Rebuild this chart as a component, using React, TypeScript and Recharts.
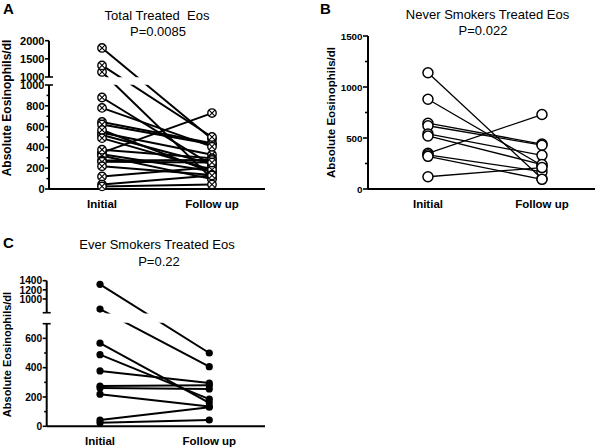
import React from 'react';
import {LineChart, Line, XAxis, YAxis, ReferenceLine, ReferenceArea} from 'recharts';

const categories = ['Initial', 'Follow up'];

// never smokers (panel B)
const neverInitial = [1140, 880, 645, 620, 540, 520, 350, 335, 320, 120];
const neverFollowUp = [100, 230, 440, 430, 330, 240, 730, 170, 95, 210];

// ever smokers (panel C)
const everInitial = [1320, 780, 567, 489, 378, 275, 262, 219, 43, 25];
const everFollowUp = [500, 407, 160, 185, 295, 280, 255, 135, 130, 43];

// total treated (panel A): both groups plus one more subject
const otherInitial = [1800];
const otherFollowUp = [480];
const totalInitial = [...otherInitial, ...neverInitial, ...everInitial];
const totalFollowUp = [...otherFollowUp, ...neverFollowUp, ...everFollowUp];

// y tick values
const totalLowerTicks = [0, 200, 400, 600, 800, 1000];
const totalLowerMinor = [100, 300, 500, 700, 900];
const totalUpperTicks = [1000, 1500, 2000];
const neverTicks = [0, 500, 1000, 1500];
const neverMinor = [250, 750, 1250];
const everLowerTicks = [0, 200, 400, 600];
const everLowerMinor = [100, 300, 500];
const everUpperTicks = [1000, 1200, 1400];

const FONT = '"Liberation Sans", Arial, Helvetica, sans-serif';

type Seg = {lo: number; hi: number; d0: number; k: number};
type TickSpec = {v: number; seg: number; label: boolean; minor?: boolean; cap?: boolean};

// broken axis: each segment maps its value range onto its own stretch of the axis
const toDisp = (s: Seg, v: number) => s.d0 + (v - s.lo) * s.k;
const dispOf = (segs: Seg[], v: number) => {
  const s = segs.find((sg) => v <= sg.hi) ?? segs[segs.length - 1];
  return toDisp(s, v);
};

type PanelProps = {
  left: number;
  top: number;
  width: number;
  height: number;
  margin: {top: number; right: number; bottom: number; left: number};
  yWidth: number;
  xHeight: number;
  xDomain: [number, number];
  segs: Seg[];
  gapInset?: number;
  ticks: TickSpec[];
  initial: number[];
  followUp: number[];
  dot: 'cross' | 'open' | 'filled';
  dotR: number;
  lineWidth: number;
  tickFont: number;
  majorLen: number;
  minorLen: number;
  xFont: number;
  xMargin: number;
};

function Panel(p: PanelProps) {
  const rows = [p.initial, p.followUp].map((vals, i) => {
    const row: Record<string, number> = {x: i + 1};
    vals.forEach((v, j) => {
      row['s' + j] = dispOf(p.segs, v);
    });
    return row;
  });

  const tickInfo = new Map<string, TickSpec>();
  const tickVals = p.ticks.map((t) => {
    const d = toDisp(p.segs[t.seg], t.v);
    tickInfo.set(d.toFixed(3), t);
    return d;
  });
  const last = p.segs[p.segs.length - 1];
  const yMax = toDisp(last, last.hi);
  const [xMin, xMax] = p.xDomain;
  const inset = p.gapInset ?? 0;

  const renderYTick = (props: any) => {
    const {x, y, payload} = props;
    const t = tickInfo.get(Number(payload.value).toFixed(3));
    if (!t) return <g />;
    const len = t.minor ? p.minorLen : p.majorLen;
    return (
      <g>
        <line x1={x - len} x2={t.cap ? x + len : x} y1={y} y2={y} stroke="#000" strokeWidth={1.6} />
        {t.label && (
          <text
            x={x - p.majorLen - 0.5}
            y={y}
            dy="0.36em"
            textAnchor="end"
            fontSize={p.tickFont}
            fontWeight="bold"
            fontFamily={FONT}
            fill="#000"
          >
            {t.v}
          </text>
        )}
      </g>
    );
  };

  const renderDot = (props: any) => {
    const {cx, cy, index} = props;
    if (cx == null || cy == null) return <g key={index} />;
    const r = p.dotR;
    if (p.dot === 'filled') return <circle key={index} cx={cx} cy={cy} r={r} fill="#000" />;
    if (p.dot === 'open')
      return <circle key={index} cx={cx} cy={cy} r={r} fill="#fff" stroke="#000" strokeWidth={1.5} />;
    const d = r * 0.7;
    return (
      <g key={index}>
        <circle cx={cx} cy={cy} r={r} fill="#fff" stroke="#000" strokeWidth={1.4} />
        <line x1={cx - d} y1={cy - d} x2={cx + d} y2={cy + d} stroke="#000" strokeWidth={1.1} />
        <line x1={cx - d} y1={cy + d} x2={cx + d} y2={cy - d} stroke="#000" strokeWidth={1.1} />
      </g>
    );
  };

  return (
    <div style={{position: 'absolute', left: p.left, top: p.top}}>
      <LineChart width={p.width} height={p.height} data={rows} margin={p.margin}>
        <XAxis
          type="number"
          dataKey="x"
          domain={p.xDomain}
          ticks={[1, 2]}
          interval={0}
          tickFormatter={(v: number) => categories[v - 1]}
          tickLine={false}
          tickMargin={p.xMargin}
          height={p.xHeight}
          axisLine={{stroke: '#000', strokeWidth: 2}}
          tick={{fill: '#000', fontSize: p.xFont, fontWeight: 'bold', fontFamily: FONT}}
        />
        <YAxis
          type="number"
          domain={[0, yMax]}
          ticks={tickVals}
          interval={0}
          width={p.yWidth}
          axisLine={false}
          tickLine={false}
          tickSize={0}
          tickMargin={0}
          tick={renderYTick}
        />
        {p.segs.map((s, i) => (
          <ReferenceLine
            key={'ax' + i}
            segment={[
              {x: xMin, y: toDisp(s, s.lo)},
              {x: xMin, y: toDisp(s, s.hi)},
            ]}
            stroke="#000"
            strokeWidth={2}
            ifOverflow="visible"
          />
        ))}
        {p.initial.map((_, j) => (
          <Line
            key={'s' + j}
            type="linear"
            dataKey={'s' + j}
            stroke="#000"
            strokeWidth={p.lineWidth}
            dot={renderDot}
            activeDot={false}
            isAnimationActive={false}
            legendType="none"
          />
        ))}
        {p.segs.length > 1 && (
          <ReferenceArea
            x1={xMin}
            x2={xMax}
            y1={toDisp(p.segs[0], p.segs[0].hi) + inset}
            y2={p.segs[1].d0 - inset}
            fill="#fff"
            fillOpacity={1}
            stroke="none"
            ifOverflow="visible"
            zIndex={900}
          />
        )}
      </LineChart>
    </div>
  );
}

const minor = (seg: number) => (v: number): TickSpec => ({v, seg, label: false, minor: true});

export default function App() {
  const textStyle = {fontFamily: FONT, fill: '#000'};
  return (
    <div style={{position: 'absolute', left: 0, top: 0, width: 600, height: 448, background: '#fff'}}>
      <Panel
        left={0}
        top={0}
        width={300}
        height={220}
        margin={{top: 40.7, right: 35, bottom: 6, left: 0}}
        yWidth={49}
        xHeight={25}
        xDomain={[0.518, 2.482]}
        segs={[
          {lo: 0, hi: 1000, d0: 0, k: 1},
          {lo: 1000, hi: 2000, d0: 1077, k: 0.349},
        ]}
        gapInset={3}
        ticks={[
          ...totalLowerTicks.map((v) => ({v, seg: 0, label: true, cap: v === 1000})),
          ...totalLowerMinor.map(minor(0)),
          ...totalUpperTicks.map((v) => ({v, seg: 1, label: true, cap: v === 1000})),
        ]}
        initial={totalInitial}
        followUp={totalFollowUp}
        dot="cross"
        dotR={4.2}
        lineWidth={2}
        tickFont={11}
        majorLen={4}
        minorLen={2.5}
        xFont={11.5}
        xMargin={5}
      />
      <Panel
        left={300}
        top={0}
        width={300}
        height={220}
        margin={{top: 36, right: 5, bottom: 6, left: 0}}
        yWidth={68}
        xHeight={25}
        xDomain={[0.474, 2.465]}
        segs={[{lo: 0, hi: 1500, d0: 0, k: 1}]}
        ticks={[...neverTicks.map((v) => ({v, seg: 0, label: true})), ...neverMinor.map(minor(0))]}
        initial={neverInitial}
        followUp={neverFollowUp}
        dot="open"
        dotR={5}
        lineWidth={1.3}
        tickFont={9.8}
        majorLen={5}
        minorLen={3}
        xFont={11.5}
        xMargin={5}
      />
      <Panel
        left={0}
        top={220}
        width={300}
        height={228}
        margin={{top: 60.7, right: 35, bottom: 1.7, left: 0}}
        yWidth={46.7}
        xHeight={20}
        xDomain={[0.512, 2.51]}
        segs={[
          {lo: 0, hi: 700, d0: 0, k: 1},
          {lo: 700, hi: 1400, d0: 775, k: 0.312},
        ]}
        gapInset={6}
        ticks={[
          ...everLowerTicks.map((v) => ({v, seg: 0, label: true})),
          ...everLowerMinor.map(minor(0)),
          {v: 700, seg: 0, label: false, cap: true},
          {v: 700, seg: 1, label: false, cap: true},
          ...everUpperTicks.map((v) => ({v, seg: 1, label: true})),
        ]}
        initial={everInitial}
        followUp={everFollowUp}
        dot="filled"
        dotR={3.6}
        lineWidth={2}
        tickFont={10.2}
        majorLen={4}
        minorLen={2.5}
        xFont={11.5}
        xMargin={5}
      />
      <svg width={600} height={448} style={{position: 'absolute', left: 0, top: 0, pointerEvents: 'none'}}>
        <text x={3} y={14} fontSize={15} fontWeight="bold" style={textStyle}>A</text>
        <text x={320} y={14} fontSize={15} fontWeight="bold" style={textStyle}>B</text>
        <text x={3} y={248} fontSize={15} fontWeight="bold" style={textStyle}>C</text>

        <text x={157} y={20} fontSize={13} textAnchor="middle" style={{...textStyle, whiteSpace: 'pre'}}>
          Total Treated  Eos
        </text>
        <text x={158} y={35.5} fontSize={13} textAnchor="middle" style={textStyle}>P=0.0085</text>
        <text x={487.5} y={19} fontSize={13} textAnchor="middle" style={textStyle}>
          Never Smokers Treated Eos
        </text>
        <text x={483} y={35} fontSize={13} textAnchor="middle" style={textStyle}>P=0.022</text>
        <text x={157} y={249} fontSize={13} textAnchor="middle" style={textStyle}>
          Ever Smokers Treated Eos
        </text>
        <text x={159} y={265.5} fontSize={13} textAnchor="middle" style={textStyle}>P=0.22</text>

        <text
          transform="translate(7,108) rotate(-90)"
          fontSize={12}
          fontWeight="bold"
          textAnchor="middle"
          dominantBaseline="central"
          style={textStyle}
        >
          Absolute Eosinophils/dl
        </text>
        <text
          transform="translate(331,112.5) rotate(-90)"
          fontSize={11.5}
          fontWeight="bold"
          textAnchor="middle"
          dominantBaseline="central"
          style={textStyle}
        >
          Absolute Eosinophils/dl
        </text>
        <text
          transform="translate(7,354.5) rotate(-90)"
          fontSize={11}
          fontWeight="bold"
          textAnchor="middle"
          dominantBaseline="central"
          style={textStyle}
        >
          Absolute Eosinophils/dl
        </text>
      </svg>
    </div>
  );
}
